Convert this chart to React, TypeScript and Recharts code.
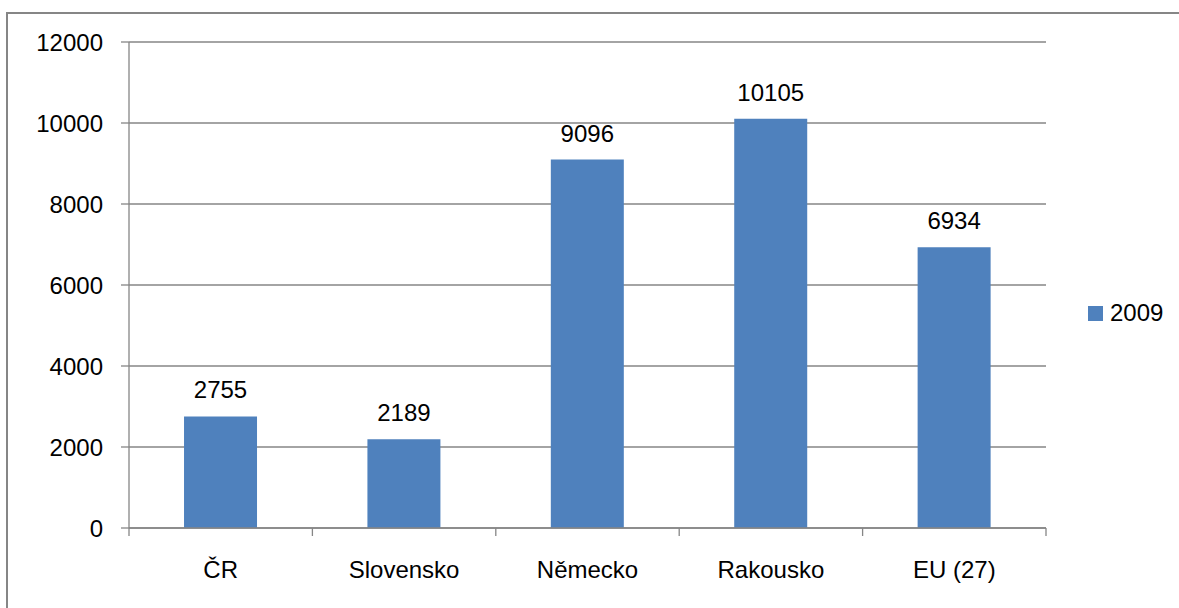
import React from "react";
import { BarChart, Bar, XAxis, YAxis, CartesianGrid, LabelList } from "recharts";

const categories = ["ČR", "Slovensko", "Německo", "Rakousko", "EU (27)"];
const values2009 = [2755, 2189, 9096, 10105, 6934];
const yTicks = [0, 2000, 4000, 6000, 8000, 10000, 12000];
const seriesName = "2009";

const data = categories.map((c, i) => ({ name: c, v: values2009[i] }));

const FONT = "'Liberation Sans', Arial, sans-serif";
const FS = 24;
const GRAY = "#868686";
const BLUE = "#4F81BD";
const CHART_W = 1179;
const M_LEFT = 129;
const M_RIGHT = 133;

const CatTick = (props: any) => {
  const { x, y, payload, index, visibleTicksCount } = props;
  const half =
    payload && typeof payload.offset === "number" && payload.offset > 0
      ? payload.offset
      : (CHART_W - M_LEFT - M_RIGHT) / categories.length / 2;
  const count = visibleTicksCount ?? categories.length;
  return (
    <g>
      <line x1={x - half} x2={x - half} y1={y} y2={y + 8} stroke={GRAY} strokeWidth={1.3} />
      {index === count - 1 && (
        <line x1={x + half} x2={x + half} y1={y} y2={y + 8} stroke={GRAY} strokeWidth={1.3} />
      )}
      <text x={x} y={y + 33} dy="0.71em" textAnchor="middle" fill="#000" fontSize={FS} fontFamily={FONT}>
        {payload.value}
      </text>
    </g>
  );
};

export default function App() {
  return (
    <div style={{ position: "absolute", left: 0, top: 0, width: 1179, height: 608, overflow: "hidden", background: "#fff" }}>
      <div style={{ position: "absolute", left: 6, top: 12, width: 1300, height: 800, border: `2px solid ${GRAY}`, boxSizing: "border-box" }} />
      <div style={{ position: "absolute", left: 0, top: 0 }}>
        <BarChart
          width={CHART_W}
          height={608}
          data={data}
          margin={{ top: 42, right: M_RIGHT, bottom: 0, left: 0 }}
          barCategoryGap="30%"
          style={{ fontFamily: FONT }}
        >
          <CartesianGrid vertical={false} stroke={GRAY} strokeWidth={1.3} />
          <XAxis
            dataKey="name"
            height={80}
            axisLine={{ stroke: GRAY, strokeWidth: 1.3 }}
            tickLine={false}
            tickSize={0}
            tickMargin={0}
            interval={0}
            tick={<CatTick />}
          />
          <YAxis
            domain={[0, 12000]}
            ticks={yTicks}
            width={M_LEFT}
            tickSize={8}
            tickMargin={18}
            tickLine={{ stroke: GRAY, strokeWidth: 1.3 }}
            axisLine={{ stroke: GRAY, strokeWidth: 1.3 }}
            tick={{ fill: "#000", fontSize: FS, fontFamily: FONT }}
            interval={0}
          />
          <Bar dataKey="v" name={seriesName} fill={BLUE} isAnimationActive={false}>
            <LabelList dataKey="v" position="top" offset={18} fill="#000" fontSize={FS} fontFamily={FONT} />
          </Bar>
        </BarChart>
      </div>
      <div style={{ position: "absolute", left: 1088, top: 299, display: "flex", alignItems: "center", fontFamily: FONT, fontSize: FS, color: "#000", lineHeight: "28px" }}>
        <span style={{ display: "inline-block", width: 15, height: 15, background: BLUE, marginRight: 7 }} />
        <span>{seriesName}</span>
      </div>
    </div>
  );
}
